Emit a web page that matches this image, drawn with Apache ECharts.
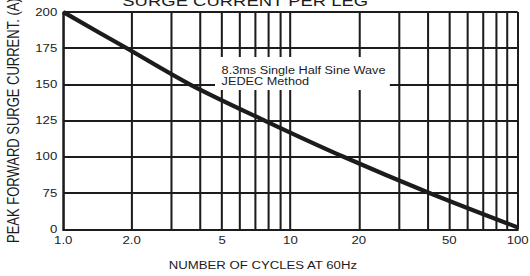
<!DOCTYPE html>
<html><head><meta charset="utf-8">
<script src="https://cdn.jsdelivr.net/npm/echarts@6/dist/echarts.min.js"></script>
<style>
html,body{margin:0;padding:0;background:#fff;overflow:hidden;}
#wrap{width:530px;height:276px;overflow:hidden;}
#c{width:442px;height:276px;transform:scaleX(1.19910);transform-origin:0 0;}
</style></head>
<body><div id="wrap"><div id="c"></div></div>
<script>
// ---- data ----
const cycles = [1, 1.9, 3.61, 7.71, 17.17, 41.0, 100];
const surgeCurrent = [200, 175, 150, 125, 100, 75, 4];
const yTickLabels = ['0', '75', '100', '125', '150', '175', '200'];
const xGridValues = [1,2,3,4,5,6,7,8,9,10,20,30,40,50,60,70,80,90,100];
const xLabelValues = [1, 2, 5, 10, 20, 50, 100];
const xLabelTexts = ['1.0', '2.0', '5', '10', '20', '50', '100'];

// the y scale of the original is stepped: 0 -> 75 is one step, then 25 per step
function yPos(v){ return v < 75 ? v / 75 : 1 + (v - 75) / 25; }

const ink = '#1c1c1c';
const font = 'Liberation Sans, Arial, sans-serif';
const chart = echarts.init(document.getElementById('c'), null, {renderer:'svg'});
chart.setOption({
  animation:false,
  title:{text:'SURGE CURRENT PER LEG', left:97, top:-11,
    textStyle:{fontFamily:font, fontSize:15.4, fontWeight:'normal', color:ink}},
  grid:{left:52.75, right:10.3, top:12, bottom:46.7, show:false, containLabel:false, outerBoundsMode:'none'},
  xAxis:{type:'log', logBase:10, min:1, max:100,
    name:'NUMBER OF CYCLES AT 60Hz', nameLocation:'middle', nameGap:31,
    nameTextStyle:{fontFamily:font, fontSize:11, color:ink, padding:[0,46,0,0]},
    axisLine:{show:true, lineStyle:{color:ink, width:2}},
    axisTick:{show:false, customValues:xGridValues},
    splitLine:{show:true, lineStyle:{color:ink, width:1.7}},
    axisLabel:{customValues:xLabelValues, fontFamily:font, fontSize:11, color:ink, margin:6,
      formatter:function(v){ const i = xLabelValues.indexOf(+v); return i>=0 ? xLabelTexts[i] : ''; }}
  },
  yAxis:{type:'value', min:0, max:6, interval:1,
    name:'PEAK FORWARD SURGE CURRENT. (A)', nameLocation:'middle', nameGap:35,
    nameTextStyle:{fontFamily:font, fontSize:13, color:ink},
    axisLine:{show:true, lineStyle:{color:ink, width:1.7}},
    axisTick:{show:false},
    splitLine:{show:true, lineStyle:{color:ink, width:2}},
    axisLabel:{fontFamily:font, fontSize:11, color:ink, margin:5,
      formatter:function(v){ return yTickLabels[Math.round(v)]; }}
  },
  graphic:[
    {type:'rect', z:50, shape:{x:179.3, y:57, width:145.8, height:33}, style:{fill:'#fff'}},
    {type:'text', z:51, x:184.8, y:75.5, style:{text:'8.3ms Single Half Sine Wave\nJEDEC Method',
      font:'10.6px '+font, fill:ink, lineHeight:11, textVerticalAlign:'middle'}}
  ],
  series:[{type:'line', z:10, symbol:'none', smooth:0.3,
    lineStyle:{color:ink, width:4},
    data:cycles.map((c,i)=>[c, yPos(surgeCurrent[i])])}]
});
</script></body></html>
